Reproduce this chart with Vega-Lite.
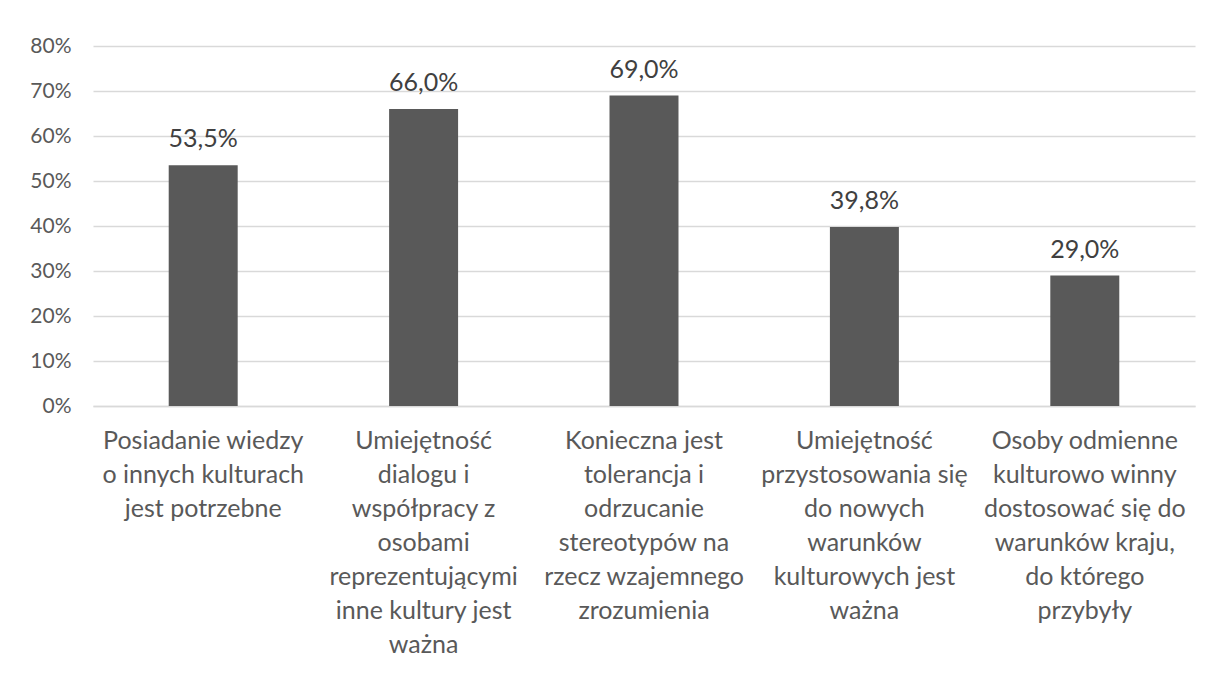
{
  "$schema": "https://vega.github.io/schema/vega-lite/v6.json",
  "width": 1102,
  "height": 360,
  "autosize": {"type": "none"},
  "padding": {"left": 93, "top": 46, "right": 16, "bottom": 267},
  "config": {
    "locale": {"number": {"decimal": ",", "thousands": " ", "grouping": [3], "currency": ["", " zł"]}},
    "view": {"stroke": null},
    "font": "Lato"
  },
  "data": {
    "values": [
      {"kategoria": "Posiadanie wiedzy|o innych kulturach|jest potrzebne", "udzial": 0.535},
      {"kategoria": "Umiejętność|dialogu i|współpracy z|osobami|reprezentującymi|inne kultury jest|ważna", "udzial": 0.66},
      {"kategoria": "Konieczna jest|tolerancja i|odrzucanie|stereotypów na|rzecz wzajemnego|zrozumienia", "udzial": 0.69},
      {"kategoria": "Umiejętność|przystosowania się|do nowych|warunków|kulturowych jest|ważna", "udzial": 0.398},
      {"kategoria": "Osoby odmienne|kulturowo winny|dostosować się do|warunków kraju,|do którego|przybyły", "udzial": 0.29}
    ]
  },
  "encoding": {
    "x": {
      "field": "kategoria",
      "type": "nominal",
      "sort": null,
      "scale": {"paddingInner": 0.687, "paddingOuter": 0.3435},
      "axis": {
        "title": null,
        "labelAngle": 0,
        "labelExpr": "split(datum.label, '|')",
        "labelFont": "Lato",
        "labelFontSize": 25,
        "labelLineHeight": 34,
        "labelColor": "#595959",
        "labelLimit": 300,
        "labelPadding": 22,
        "labelBaseline": "top",
        "ticks": false,
        "domainColor": "#d9d9d9",
        "domainWidth": 1.5
      }
    },
    "y": {
      "field": "udzial",
      "type": "quantitative",
      "scale": {"domain": [0, 0.8]},
      "axis": {
        "title": null,
        "format": ".0%",
        "values": [0, 0.1, 0.2, 0.3, 0.4, 0.5, 0.6, 0.7, 0.8],
        "domain": false,
        "ticks": false,
        "gridColor": "#d9d9d9",
        "gridWidth": 1.5,
        "labelFont": "Lato",
        "labelFontSize": 21,
        "labelColor": "#595959",
        "labelPadding": 22
      }
    }
  },
  "layer": [
    {"mark": {"type": "bar", "color": "#595959"}},
    {
      "mark": {"type": "text", "baseline": "bottom", "dy": -13, "fontSize": 25, "color": "#404040", "font": "Lato"},
      "encoding": {"text": {"field": "udzial", "type": "quantitative", "format": ".1%"}}
    }
  ]
}
